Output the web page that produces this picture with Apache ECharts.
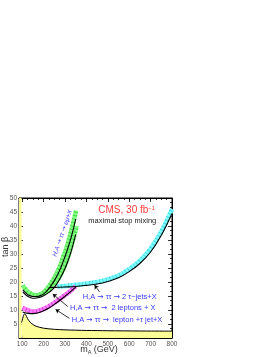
<!DOCTYPE html>
<html><head><meta charset="utf-8">
<script src="https://cdn.jsdelivr.net/npm/echarts@6/dist/echarts.min.js"></script>
<style>html,body{margin:0;padding:0;background:#fff}#c{width:276px;height:357px}</style>
</head><body><div id="c"></div>
<script>
// ---- axis ticks ----
const xMajor = [100,200,300,400,500,600,700,800];
const xMinor = [100,125,150,175,200,225,250,275,300,325,350,375,400,425,450,475,500,525,550,575,600,625,650,675,700,725,750,775,800];
const yLabels = [5,10,15,20,25,30,35,40,45,50];

// ---- data (mA, tan beta) ----
const lepStrip = [[85,50],[97,50]];
const lepLine = [[97,5.5],[100,6.3],[105,7.8],[110,8.6],[115,8.5],[120,7.7],[130,6.3],[145,5.1],[165,4.2],[200,3.5],[250,3.1],[300,2.9],[400,2.7],[500,2.6],[650,2.5],[800,2.45]];

const emuBand1 = [[103,18.8],[115,17.5],[130,16.3],[150,15.5],[170,15.3],[190,15.8],[210,17],[230,19],[250,21.5],[270,24.5],[290,28.5],[310,33],[330,38.5],[352,45.5]];
const emuLine1 = [[103,17.2],[115,16.2],[130,15.3],[150,14.8],[170,14.8],[190,15.3],[210,16.4],[230,18.2],[250,20.5],[270,23.3],[290,27],[310,31.3],[330,36.3],[350,42.5]];
const emuBand2 = [[200,15.8],[225,17.3],[250,19.3],[275,22],[300,26],[325,31.8],[355,40]];
const emuLine2 = [[103,16.5],[120,15.2],[140,14.4],[160,14.2],[180,14.5],[200,15.1],[225,16.3],[250,18],[275,21],[300,24.8],[325,30],[350,37]];

const tauBand = [[265,18.4],[300,18.6],[350,19],[400,19.4],[450,20],[500,20.9],[550,22.3],[600,24.6],[650,27.6],[700,31.9],[750,38],[800,46]];
const tauLine = [[225,18],[265,18.1],[300,18.2],[350,18.4],[400,18.8],[450,19.3],[500,20.2],[550,21.5],[600,23.7],[650,26.6],[700,30.7],[750,36.7],[800,44.5]];

const llBand = [[102,10.8],[120,10.1],[140,9.6],[160,9.5],[180,9.8],[200,10.4],[225,11.4],[250,12.6],[275,13.9],[300,15.3],[325,16.8],[350,18.5]];
const ltLine = [[102,9.3],[120,8.9],[140,8.7],[160,8.8],[180,9.1],[200,9.7],[225,10.7],[250,12],[275,13.4],[300,14.9],[325,16.5],[350,18.2]];

const arrowTau = [[461,16.5],[438,18.9]];
const arrowLL = [[313,11.2],[243,15.7]];
const arrowLT = [[321,7],[256,10.2]];

// ---- texts ----
const txtTau = 'H,A {a|\u2192} \u03c4\u03c4 {a|\u2192} 2 \u03c4\u2212jets+X';
const txtLL = 'H,A {a|\u2192} \u03c4\u03c4 {a|\u2192}  2 leptons + X';
const txtLT = 'H,A {a|\u2192} \u03c4\u03c4 {a|\u2192}  lepton +\u03c4 jet+X';
const txtEmu = 'H,A {a|\u2192} \u03c4\u03c4 {a|\u2192} e\u03bc+X';

const F = '"Liberation Sans", "DejaVu Sans", sans-serif';
const FA = '"DejaVu Sans", sans-serif';
const blue = '#3a3aff';
const arrowRich = {a:{fontFamily:FA, fontSize:7.5, fill:blue}};

function band(data, color, dashColor){
  return [
    {type:'line', data, smooth:0.4, symbol:'none', lineStyle:{color, width:4.5}, z:2, silent:true},
    {type:'line', data, smooth:0.4, symbol:'none', lineStyle:{color:dashColor, width:4.5, type:[1,2.5]}, z:3, silent:true}
  ];
}
function blk(data){
  return {type:'line', data, smooth:0.4, symbol:'none', lineStyle:{color:'#000', width:1.1}, z:4, silent:true};
}

const chart = echarts.init(document.getElementById('c'), null, {renderer:'canvas', width:276, height:357});
const tickCommon = {inside:true, lineStyle:{color:'#000', width:0.8}};
chart.setOption({
  animation:false,
  backgroundColor:'#fff',
  grid:{left:19, top:198, width:153, height:140, show:true, borderColor:'#000', borderWidth:1, backgroundColor:'transparent'},
  xAxis:[
    {type:'value', position:'bottom', min:85, max:800, axisLine:{lineStyle:{color:'#000'}},
     axisTick:Object.assign({length:4, customValues:xMajor}, tickCommon),
     axisLabel:{customValues:xMajor, fontSize:6.5, color:'#555', fontFamily:F, margin:3},
     splitLine:{show:false}},
    {type:'value', position:'bottom', min:85, max:800, axisLine:{show:false},
     axisTick:Object.assign({length:2, customValues:xMinor}, tickCommon),
     axisLabel:{show:false}, splitLine:{show:false}},
    {type:'value', position:'top', min:85, max:800, axisLine:{lineStyle:{color:'#000'}},
     axisTick:Object.assign({length:4, customValues:xMajor}, tickCommon),
     axisLabel:{show:false}, splitLine:{show:false}},
    {type:'value', position:'top', min:85, max:800, axisLine:{show:false},
     axisTick:Object.assign({length:2, customValues:xMinor}, tickCommon),
     axisLabel:{show:false}, splitLine:{show:false}}
  ],
  yAxis:[
    {type:'value', position:'left', min:0, max:50, interval:5, axisLine:{lineStyle:{color:'#000'}},
     axisTick:Object.assign({length:4}, tickCommon),
     minorTick:{show:true, splitNumber:3, length:2, lineStyle:{color:'#000', width:0.8}},
     axisLabel:{fontSize:6.5, color:'#555', fontFamily:F, margin:2, formatter:v => yLabels.includes(v) ? String(v) : ''},
     splitLine:{show:false}},
    {type:'value', position:'right', min:0, max:50, interval:5, axisLine:{lineStyle:{color:'#000'}},
     axisTick:Object.assign({length:4}, tickCommon),
     minorTick:{show:true, splitNumber:3, length:2, lineStyle:{color:'#000', width:0.8}},
     axisLabel:{show:false}, splitLine:{show:false}}
  ],
  series:[
    {type:'line', data:lepStrip, symbol:'none', lineStyle:{width:0, opacity:0}, areaStyle:{color:'#fdfd98', opacity:1}, z:1, silent:true},
    {type:'line', data:lepLine, smooth:0.3, symbol:'none', lineStyle:{color:'#000', width:1}, areaStyle:{color:'#fdfd98', opacity:1}, z:1, silent:true},
    ...band(emuBand1, '#80ff80', '#45d845'),
    ...band(emuBand2, '#80ff80', '#45d845'),
    ...band(tauBand, '#80ffff', '#40d8e8'),
    ...band(llBand, '#ff80ff', '#e040e0'),
    blk(emuLine1), blk(emuLine2), blk(tauLine), blk(ltLine),
    {type:'lines', coordinateSystem:'cartesian2d', symbol:['none','arrow'], symbolSize:4, silent:true, z:5,
     lineStyle:{color:'#000', width:0.8, opacity:1},
     data:[{coords:arrowTau},{coords:arrowLL},{coords:arrowLT}]}
  ],
  graphic:[
    {type:'text', x:82.7, y:296.7, silent:true, style:{text:txtTau, fill:blue, font:'7.5px '+F, verticalAlign:'middle', rich:arrowRich}},
    {type:'text', x:70, y:308.3, silent:true, style:{text:txtLL, fill:blue, font:'7.5px '+F, verticalAlign:'middle', rich:arrowRich}},
    {type:'text', x:71.7, y:320, silent:true, style:{text:txtLT, fill:blue, font:'7.5px '+F, verticalAlign:'middle', rich:arrowRich}},
    {type:'text', x:62.5, y:233.3, rotation:71*Math.PI/180, silent:true, style:{text:txtEmu, fill:blue, font:'italic 6.5px '+F, align:'center', verticalAlign:'middle', rich:{a:{fontFamily:FA, fontSize:6.5, fill:blue}}}},
    {type:'text', x:98.3, y:210, silent:true, style:{text:'CMS, 30 fb{sup|\u22121}', fill:'#ff3b3b', font:'10px '+F, verticalAlign:'middle',
      rich:{sup:{fontSize:6, fill:'#ff3b3b', verticalAlign:'top', fontFamily:F}}}},
    {type:'text', x:88.3, y:221, silent:true, style:{text:'maximal stop mixing', fill:'#222', font:'7.5px '+F, verticalAlign:'middle'}},
    {type:'text', x:88, y:333.3, silent:true, style:{text:'Excluded by LEP', fill:'#5050c0', font:'5.5px '+F, verticalAlign:'middle'}},
    {type:'text', x:99, y:350, silent:true, style:{text:'m{sub|A} (GeV)', fill:'#333', font:'9px '+F, align:'center', verticalAlign:'middle',
      rich:{sub:{fontSize:5.5, fill:'#333', verticalAlign:'bottom', fontFamily:F, padding:[4,0,0,0]}}}},
    {type:'text', x:6, y:247, rotation:Math.PI/2, silent:true, style:{text:'tan \u03b2', fill:'#333', font:'9px '+F, align:'center', verticalAlign:'middle'}}
  ]
});
</script>
</body></html>
